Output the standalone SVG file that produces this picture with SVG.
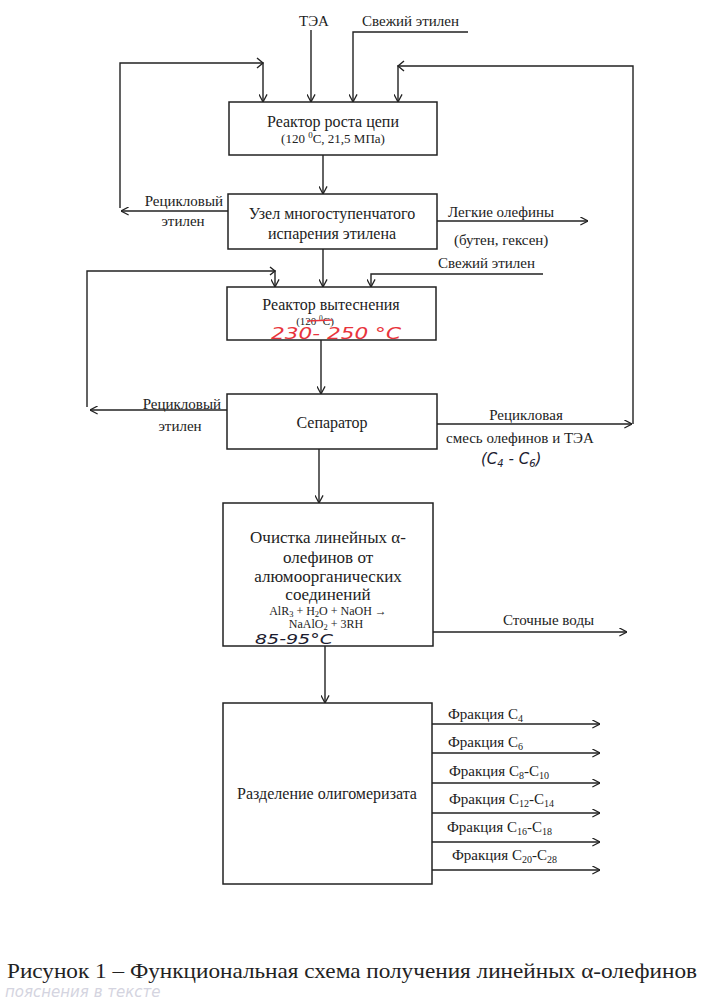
<svg xmlns="http://www.w3.org/2000/svg" width="701" height="1004" viewBox="0 0 701 1004">
<defs>
<marker id="ah" viewBox="0 0 10 10" refX="9.5" refY="5" markerWidth="9" markerHeight="9" markerUnits="userSpaceOnUse" orient="auto">
<path d="M1,0.5 L9.5,5 L1,9.5" fill="none" stroke="#222" stroke-width="1.4"/>
</marker>
</defs>
<style>
.box{fill:#fff;stroke:#222;stroke-width:1.5}
.ln{fill:none;stroke:#222;stroke-width:1.4}
.ar{marker-end:url(#ah)}
text{font-family:"Liberation Serif","Times New Roman",serif;fill:#222}
.t{font-size:16px;text-anchor:middle}
.t17{font-size:17px;text-anchor:middle}
.s{font-size:13px;text-anchor:middle}
.f{font-size:12px;text-anchor:middle}
.l{font-size:15px}
.lm{font-size:15px;text-anchor:middle}
.le{font-size:15px;text-anchor:end}
.hw{font-family:"DejaVu Sans",sans-serif;font-style:italic}
.red{fill:#e8343c}
.ink{fill:#1c1c30}
.faint{fill:#d4d4e0}
.sub{font-size:10px}
.fs{font-size:8.5px}
</style>
<rect width="701" height="1004" fill="#fff"/>

<g id="connectors">
<path class="ln ar" d="M311,30 V102"/>
<path class="ln ar" d="M468,32 H353 V102"/>
<path class="ln ar" d="M228,211 H121"/>
<path class="ln ar" d="M120,208 V63 H263 V102"/>
<path class="ln" d="M257,58 L263,63 L257,68"/>
<path class="ln ar" d="M437,424 H632"/>
<path class="ln ar" d="M633,424 V66 H398 V102"/>
<path class="ln" d="M404,61 L398,66 L404,71"/>
<path class="ln ar" d="M323,155 V194"/>
<path class="ln ar" d="M323,249 V287"/>
<path class="ln ar" d="M437,221 H588"/>
<path class="ln ar" d="M543,274 H371 V287"/>
<path class="ln ar" d="M227,410 H90"/>
<path class="ln ar" d="M87,407 V271 H275 V287"/>
<path class="ln" d="M270,267 L275,271 L270,275"/>
<path class="ln ar" d="M321,340 V394"/>
<path class="ln ar" d="M319,449 V503"/>
<path class="ln ar" d="M433,632 H627"/>
<path class="ln ar" d="M325,646 V703"/>
<path class="ln ar" d="M432,724 H600"/>
<path class="ln ar" d="M432,753 H600"/>
<path class="ln ar" d="M432,783 H600"/>
<path class="ln ar" d="M432,813 H600"/>
<path class="ln ar" d="M432,842 H600"/>
<path class="ln ar" d="M432,870 H600"/>
</g>

<g id="labels">
<text class="lm" x="314" y="26" font-size="16">ТЭА</text>
<text class="l" x="362" y="26">Свежий этилен</text>
<text class="le" x="223" y="206">Рецикловый</text>
<text class="lm" x="183" y="226">этилен</text>
<text class="l" x="448" y="217">Легкие олефины</text>
<text class="l" x="454" y="245">(бутен, гексен)</text>
<text class="l" x="438" y="268">Свежий этилен</text>
<text class="le" x="221" y="409">Рецикловый</text>
<text class="lm" x="180" y="431">этилен</text>
<text class="lm" x="526" y="420">Рецикловая</text>
<text class="l" x="446" y="443">смесь олефинов и ТЭА</text>
<text class="hw ink" x="481" y="464" font-size="15">(C<tspan class="sub" dy="3">4</tspan><tspan dy="-3"> - C</tspan><tspan class="sub" dy="3">6</tspan><tspan dy="-3">)</tspan></text>
<text class="l" x="503" y="625">Сточные воды</text>
<text class="l" x="448" y="719">Фракция C<tspan class="sub" dy="3">4</tspan></text>
<text class="l" x="448" y="747">Фракция C<tspan class="sub" dy="3">6</tspan></text>
<text class="l" x="449" y="776">Фракция C<tspan class="sub" dy="3">8</tspan><tspan dy="-3">-C</tspan><tspan class="sub" dy="3">10</tspan></text>
<text class="l" x="449" y="804">Фракция C<tspan class="sub" dy="3">12</tspan><tspan dy="-3">-C</tspan><tspan class="sub" dy="3">14</tspan></text>
<text class="l" x="447" y="832">Фракция C<tspan class="sub" dy="3">16</tspan><tspan dy="-3">-C</tspan><tspan class="sub" dy="3">18</tspan></text>
<text class="l" x="452" y="860">Фракция C<tspan class="sub" dy="3">20</tspan><tspan dy="-3">-C</tspan><tspan class="sub" dy="3">28</tspan></text>
</g>

<g id="n1">
<rect class="box" x="229" y="102" width="208" height="53"/>
<text class="t" x="333" y="127">Реактор роста цепи</text>
<text class="s" x="333" y="143">(120 <tspan font-size="9" dy="-5">0</tspan><tspan dy="5">C, 21,5 МПа)</tspan></text>
</g>

<g id="n2">
<rect class="box" x="228" y="194" width="209" height="55"/>
<text class="t" x="332" y="219">Узел многоступенчатого</text>
<text class="t" x="332" y="239">испарения этилена</text>
</g>

<g id="n3">
<rect class="box" x="227" y="287" width="209" height="53"/>
<text class="t" x="331" y="310">Реактор вытеснения</text>
<text x="315" y="325" font-size="11" text-anchor="middle">(120 <tspan font-size="7.5" dy="-4">0</tspan><tspan dy="4">C)</tspan></text>
<line x1="307" y1="321" x2="332" y2="320" stroke="#e8343c" stroke-width="1.3"/>
<text class="hw red" x="271" y="339" font-size="15" textLength="130" lengthAdjust="spacingAndGlyphs">230- 250 °C</text>
</g>

<g id="n4">
<rect class="box" x="227" y="394" width="210" height="55"/>
<text class="t" x="332" y="428">Сепаратор</text>
</g>

<g id="n5">
<rect class="box" x="223" y="503" width="210" height="143"/>
<text class="t17" x="328" y="543">Очистка линейных α-</text>
<text class="t17" x="328" y="563">олефинов от</text>
<text class="t17" x="328" y="582">алюмоорганических</text>
<text class="t17" x="328" y="600">соединений</text>
<text class="f" x="328" y="615">AlR<tspan class="fs" dy="1.5">3</tspan><tspan dy="-1.5"> + H</tspan><tspan class="fs" dy="1.5">2</tspan><tspan dy="-1.5">O + NaOH  →</tspan></text>
<text class="f" x="326" y="628">NaAlO<tspan class="fs" dy="1.5">2</tspan><tspan dy="-1.5"> + 3RH</tspan></text>
<text class="hw ink" x="255" y="644" font-size="14" textLength="78" lengthAdjust="spacingAndGlyphs">85-95°C</text>
</g>

<g id="n6">
<rect class="box" x="223" y="703" width="209" height="181"/>
<text class="t" x="327" y="799">Разделение олигомеризата</text>
</g>

<g id="caption">
<text x="7" y="978" font-size="21.5" textLength="690" lengthAdjust="spacingAndGlyphs">Рисунок 1 – Функциональная схема получения линейных α-олефинов</text>
<text class="hw faint" x="5" y="997" font-size="15">пояснения в тексте</text>
</g>
</svg>
